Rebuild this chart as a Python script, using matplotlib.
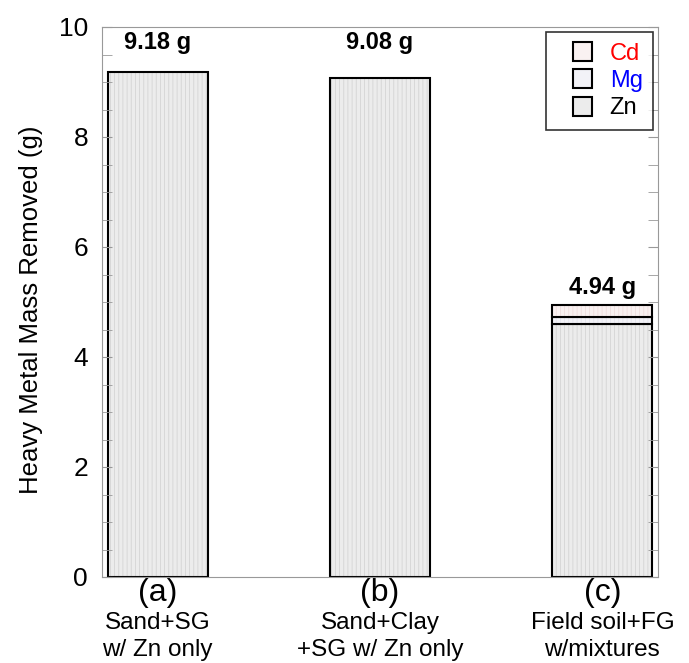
import matplotlib.pyplot as plt
from matplotlib.patches import Patch, Rectangle
from matplotlib.legend_handler import HandlerPatch
import numpy as np

groups = ['(a)', '(b)', '(c)']
descr = ['Sand+SG\nw/ Zn only', 'Sand+Clay\n+SG w/ Zn only', 'Field soil+FG\nw/mixtures']
zn = [9.18, 9.08, 4.60]
mg = [0.0, 0.0, 0.13]
cd = [0.0, 0.0, 0.21]
totals = ['9.18 g', '9.08 g', '4.94 g']
label_y = [9.5, 9.5, 5.05]

colors = {'Zn': '#ececec', 'Mg': '#f2f2f7', 'Cd': '#f9f1f1'}
hatch_col = {'Zn': '#d4d4d4', 'Mg': '#e4e4ee', 'Cd': '#eedddd'}

plt.rcParams['font.family'] = ['Liberation Sans', 'DejaVu Sans']
plt.rcParams['hatch.linewidth'] = 0.6

fig = plt.figure(figsize=(6.89, 6.63), dpi=100)
ax = fig.add_axes([102/689, 1-577/663, 556/689, 550/663])

x = np.arange(len(groups))
w = 0.45
zn = np.array(zn); mg = np.array(mg); cd = np.array(cd)
segs = [('Zn', zn, np.zeros(3)), ('Mg', mg, zn), ('Cd', cd, zn + mg)]
for name, vals, bot in segs:
    m = vals > 0
    # textured fill, then black outline on top
    ax.bar(x[m], vals[m], w, bottom=bot[m], color=colors[name], edgecolor=hatch_col[name],
           hatch='||||', linewidth=0)
    ax.bar(x[m], vals[m], w, bottom=bot[m], fill=False, edgecolor='black', linewidth=1.5)

for xi, ly, s in zip(x, label_y, totals):
    ax.text(xi, ly, s, ha='center', va='bottom', fontsize=17, fontweight='bold')

ax.set_xlim(-0.25, 2.25)
ax.set_ylim(0, 10)
ax.set_yticks(np.arange(0, 11, 2))
ax.set_yticks(np.arange(0, 10.01, 0.5), minor=True)
ax.tick_params(axis='y', which='both', direction='in', right=True, labelsize=19,
               color='#999999', length=7, pad=10)
ax.set_xticks(x)
ax.set_xticklabels(groups, fontsize=23)
ax.tick_params(axis='x', length=0, pad=1)
for xi, d in zip(x, descr):
    ax.text(xi, -0.064, d, transform=ax.get_xaxis_transform(), ha='center', va='top',
            fontsize=17.5, linespacing=1.3)
for sp in ax.spines.values():
    sp.set_color('#999999')
ax.set_ylabel('Heavy Metal Mass Removed (g)', fontsize=18.5)
ax.yaxis.set_label_coords(-0.107, 0.485)


def small_square(legend, orig_handle, xdescent, ydescent, width, height, fontsize):
    s = 19 * 72 / fig.dpi
    return Rectangle((width - s - xdescent, (height - s) / 2 - ydescent), s, s)


handles = [Patch(facecolor=colors[k], edgecolor='black', linewidth=1.5) for k in ['Cd', 'Mg', 'Zn']]
leg = ax.legend(handles, ['Cd', 'Mg', 'Zn'], loc='upper right', bbox_to_anchor=(1.0, 1.0),
                fontsize=17, frameon=True, fancybox=False, edgecolor='black',
                handlelength=1.48, handleheight=0.8, handletextpad=0.76, borderpad=0.45,
                labelspacing=0.22, borderaxespad=0.2,
                handler_map={Patch: HandlerPatch(patch_func=small_square)})
leg.get_frame().set_linewidth(1.2)
for txt, c in zip(leg.get_texts(), ['red', 'blue', 'black']):
    txt.set_color(c)

fig.savefig('out.png', dpi=100)
